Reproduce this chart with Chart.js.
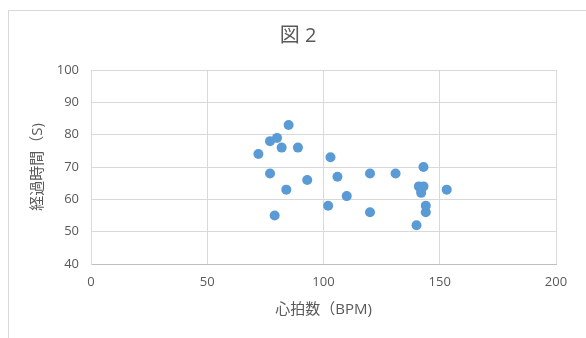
<!DOCTYPE html>
<html>
<head>
<meta charset="utf-8">
<script src="https://cdn.jsdelivr.net/npm/chart.js@4/dist/chart.umd.min.js"></script>
<style>
  html, body { margin: 0; padding: 0; background: #ffffff; }
  #wrap { width: 586px; height: 338px; position: relative; }
</style>
</head>
<body>
<div id="wrap"><canvas id="chart" width="586" height="338"></canvas></div>
<script>
// Heart rate (BPM) and elapsed time (s) for each subject
const heartRate = [72, 77, 80, 85, 82, 89, 77, 84, 93, 79, 103, 106, 102, 110, 120, 120, 131, 143, 141, 143, 142, 142, 153, 144, 144, 140];
const elapsedTime = [74, 78, 79, 83, 76, 76, 68, 63, 66, 55, 73, 67, 58, 61, 68, 56, 68, 70, 64, 64, 62, 63, 63, 58, 56, 52];

const chartTitle = '図 2';
const xTitle = '心拍数（BPM)';
const yTitle = '経過時間（S)';
const xTicks = [0, 50, 100, 150, 200];
const yTicks = [40, 50, 60, 70, 80, 90, 100];

const points = heartRate.map((x, i) => ({ x: x, y: elapsedTime[i] }));

const textColor = '#595959';
const gridColor = '#d9d9d9';
const fontFamily = "'Open Sans', 'Noto Sans CJK JP', sans-serif";

// Light frame around the whole chart object
const framePlugin = {
  id: 'frame',
  beforeDraw(chart) {
    const ctx = chart.ctx;
    ctx.save();
    ctx.fillStyle = '#ffffff';
    ctx.fillRect(0, 0, chart.width, chart.height);
    ctx.strokeStyle = '#d9d9d9';
    ctx.lineWidth = 1;
    ctx.strokeRect(8.5, 10.5, 620, 360);
    ctx.restore();
  }
};

new Chart(document.getElementById('chart'), {
  type: 'scatter',
  data: {
    datasets: [{
      data: points,
      backgroundColor: '#5b9bd5',
      borderColor: '#5b9bd5',
      borderWidth: 0,
      pointRadius: 5,
      pointHoverRadius: 5
    }]
  },
  options: {
    responsive: false,
    animation: false,
    layout: { padding: { left: 10, right: 0, top: 0, bottom: 0 } },
    plugins: {
      legend: { display: false },
      tooltip: { enabled: false },
      title: {
        display: true,
        text: chartTitle,
        color: textColor,
        font: { family: fontFamily, size: 20, weight: 'normal' },
        padding: { top: 24, bottom: 22 }
      }
    },
    scales: {
      x: {
        type: 'linear',
        min: xTicks[0],
        max: xTicks[xTicks.length - 1],
        afterBuildTicks(scale) { scale.ticks = xTicks.map(v => ({ value: v })); },
        afterFit(scale) { scale.height = 74; scale.paddingRight = 30; },
        grid: { color: gridColor, lineWidth: 1, drawTicks: false },
        border: { color: '#bfbfbf', width: 1 },
        ticks: {
          color: textColor,
          padding: 10,
          font: { family: fontFamily, size: 13 }
        },
        title: {
          display: true,
          text: xTitle,
          color: textColor,
          font: { family: fontFamily, size: 15 },
          padding: { top: 0, bottom: 19 }
        }
      },
      y: {
        type: 'linear',
        min: yTicks[0],
        max: yTicks[yTicks.length - 1],
        afterBuildTicks(scale) { scale.ticks = yTicks.map(v => ({ value: v })); },
        afterFit(scale) { scale.width = 81; },
        grid: { color: gridColor, lineWidth: 1, drawTicks: false },
        border: { color: gridColor, width: 1 },
        ticks: {
          color: textColor,
          padding: 12,
          font: { family: fontFamily, size: 13 }
        },
        title: {
          display: true,
          text: yTitle,
          color: textColor,
          font: { family: fontFamily, size: 15 },
          padding: { top: 19, bottom: 0 }
        }
      }
    }
  },
  plugins: [framePlugin]
});
</script>
</body>
</html>
